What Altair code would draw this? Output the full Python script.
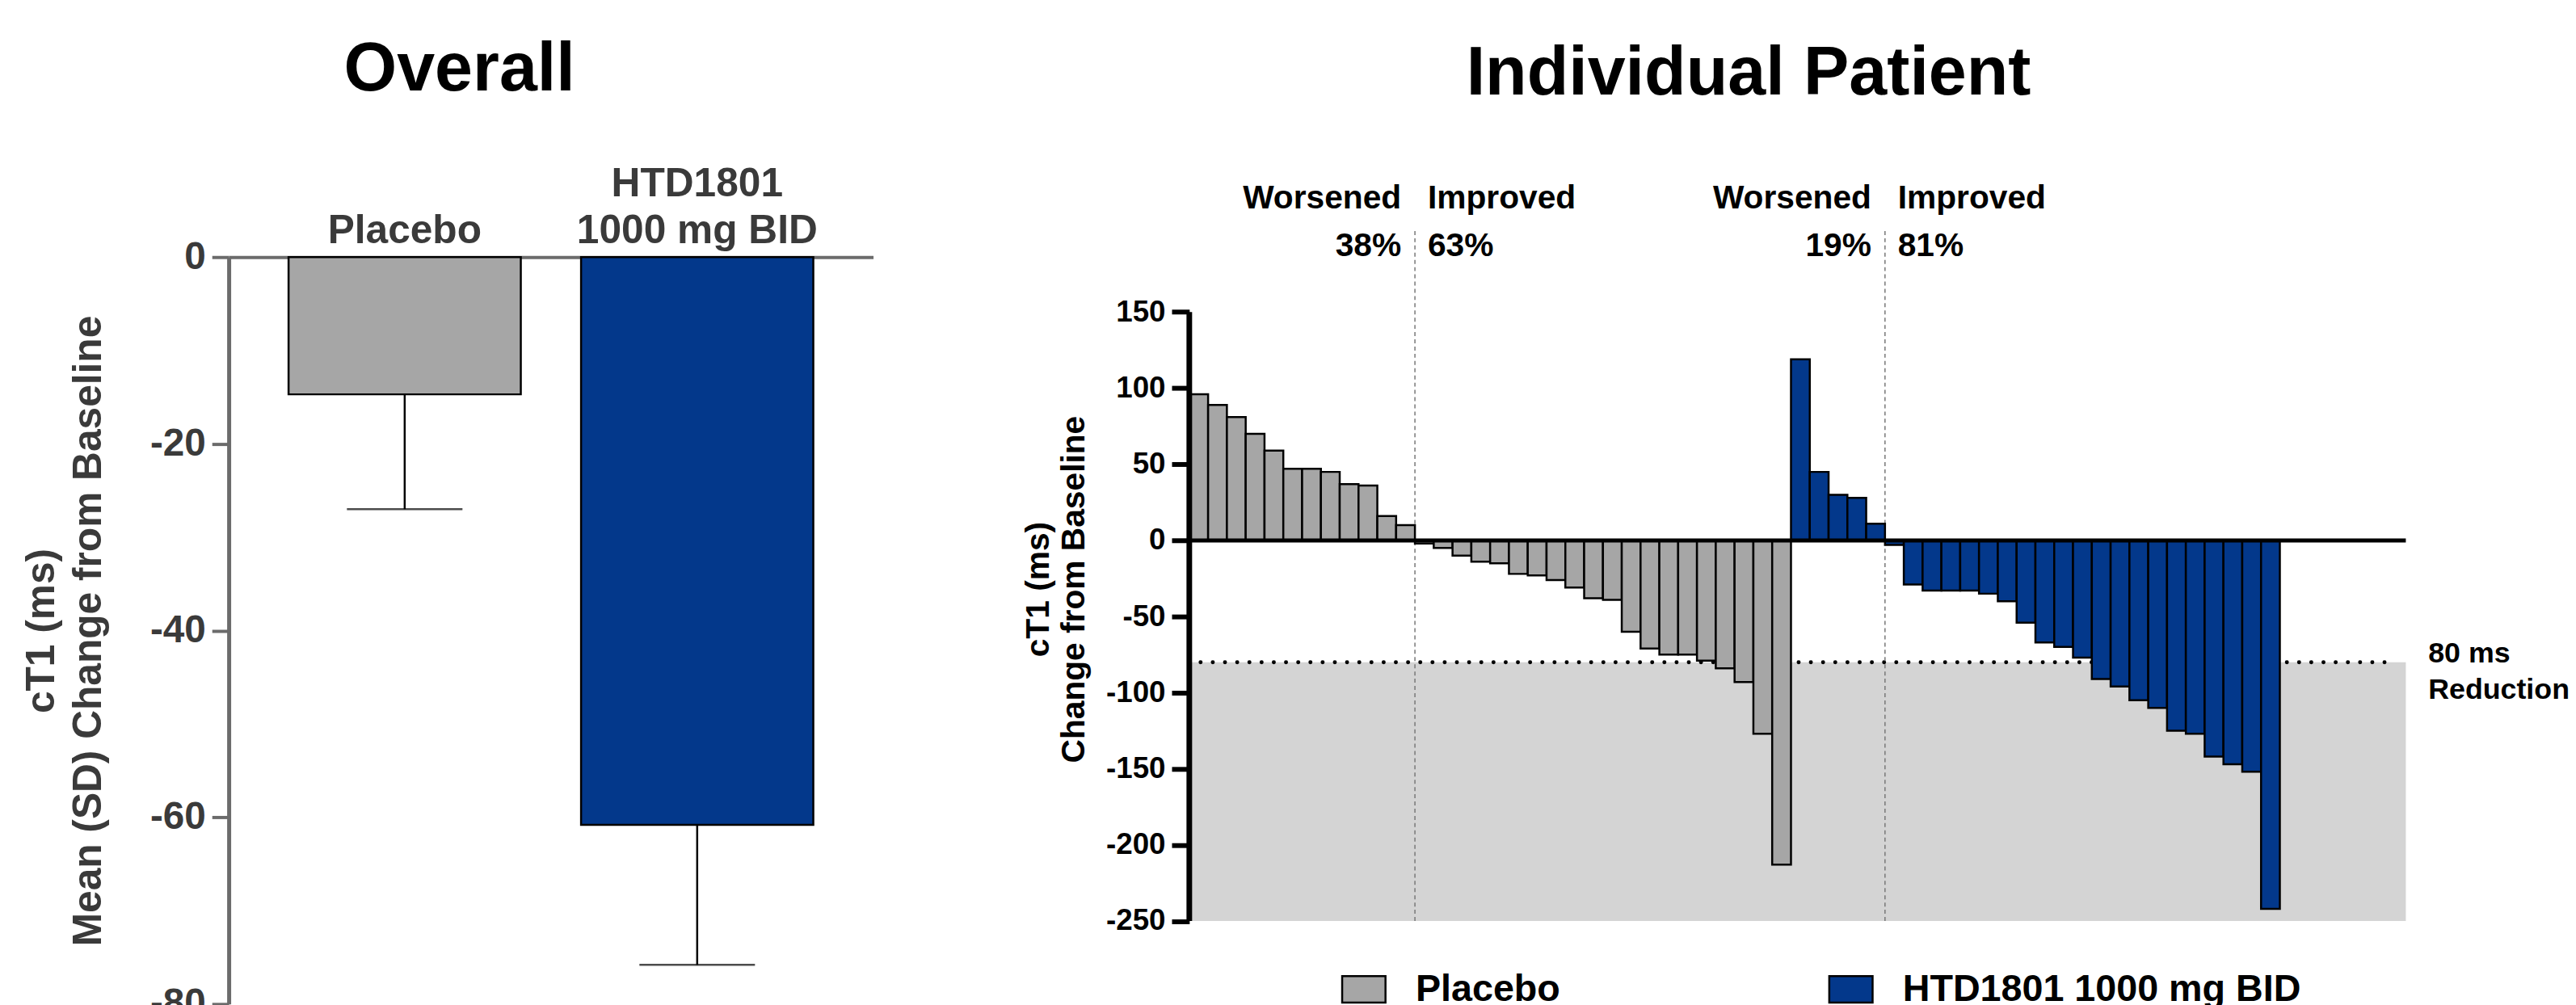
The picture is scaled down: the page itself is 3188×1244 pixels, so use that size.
import altair as alt
import pandas as pd

FONT = "Liberation Sans"

# ---------------- data ----------------
groups = ["Placebo", "HTD1801 1000 mg BID"]
group_colors = ["#a6a6a6", "#03388b"]

overall_labels = ["Placebo", "HTD1801\n1000 mg BID"]
overall_means = [-14.7, -60.8]
overall_sds = [12.3, 15.0]
overall_ticks = [0, -20, -40, -60, -80]

placebo_changes = [96, 89, 81, 70, 59, 47, 47, 45, 37, 36, 16, 10,
                   -2, -5, -10, -14, -15, -22, -23, -26, -31, -38, -39,
                   -60, -71, -75, -75, -79, -84, -93, -127, -213]
htd_changes = [119, 45, 30, 28, 11,
               -3, -29, -33, -33, -33, -35, -40, -54, -67, -70, -77, -91,
               -96, -105, -110, -125, -127, -142, -147, -152, -242]
patient_ticks = [150, 100, 50, 0, -50, -100, -150, -200, -250]
threshold = -80
worsened_pct = ["38%", "19%"]
improved_pct = ["63%", "81%"]

# ---------------- left panel: overall ----------------
ov = pd.DataFrame({
    "group": groups,
    "label": overall_labels,
    "fill": group_colors,
    "mean": overall_means,
    "low": [m - s for m, s in zip(overall_means, overall_sds)],
})

xl_scale = alt.Scale(paddingInner=0.206, paddingOuter=0.2045)
xl_axis = alt.Axis(orient="top", title=None, labelAngle=0, ticks=False,
                   # two-line labels, bottom-aligned: single-line labels get an empty first line
                   labelExpr="indexof(datum.label, '\\n') < 0 ? ['', datum.label] : split(datum.label, '\\n')",
                   labelLimit=2000, labelBaseline="bottom",
                   domainColor="#6b6b6b", domainWidth=4,
                   labelFont=FONT, labelFontSize=50, labelFontWeight="bold",
                   labelColor="#3a3a3a", labelPadding=66, labelLineHeight=58)
yl_scale = alt.Scale(domain=[-80, 0], nice=False)
yl_axis = alt.Axis(values=overall_ticks, title=["cT1 (ms)", "Mean (SD) Change from Baseline"],
                   labelExpr="'' + datum.value",
                   titleFont=FONT, titleFontSize=50, titleFontWeight="bold", titleColor="#3a3a3a",
                   titleLineHeight=59, titlePadding=51,
                   labelFont=FONT, labelFontSize=48, labelFontWeight="bold", labelColor="#3a3a3a",
                   labelPadding=8, domainColor="#6b6b6b", domainWidth=5,
                   tickColor="#6b6b6b", tickWidth=4, tickSize=21, grid=False)


def XL():
    return alt.X("label:N", sort=overall_labels, scale=xl_scale, axis=xl_axis)


def YL(f):
    return alt.Y(f, scale=yl_scale, axis=yl_axis)


bars_l = alt.Chart(ov).mark_bar(stroke="black", strokeWidth=2.5).encode(
    x=XL(), y=YL("mean:Q"), fill=alt.Fill("fill:N", scale=None))
err_l = alt.Chart(ov).mark_rule(color="black", strokeWidth=2.5).encode(
    x=XL(), y=YL("mean:Q"), y2="low:Q")
cap_l = alt.Chart(ov).mark_tick(color="black", thickness=2.5, size=144).encode(
    x=XL(), y=YL("low:Q"))

left = alt.layer(bars_l, err_l, cap_l).properties(
    width=803, height=931,
    title=alt.TitleParams("Overall", font=FONT, fontSize=85, fontWeight="bold", color="black",
                          anchor="middle", offset=74, dx=-114),
)

# ---------------- right panel: individual patients ----------------
rows = []
for i, v in enumerate(placebo_changes):
    rows.append({"group": groups[0], "start": i, "end": i + 1, "value": v, "base": 0})
n_p = len(placebo_changes)
for j, v in enumerate(htd_changes):
    rows.append({"group": groups[1], "start": n_p + j, "end": n_p + j + 1, "value": v, "base": 0})
pts = pd.DataFrame(rows)

x_extent = 64.7
y_top = 150 + 68.5 / 1.8975   # headroom above the top tick so the panel sits lower
xs = alt.Scale(domain=[0, x_extent], nice=False, zero=False)
ys = alt.Scale(domain=[-250, y_top], nice=False)
yr_axis = alt.Axis(values=patient_ticks, title=["cT1 (ms)", "Change from Baseline"], domain=False,
                   labelExpr="'' + datum.value",
                   titleFont=FONT, titleFontSize=41, titleFontWeight="bold", titleColor="black",
                   titleLineHeight=45, titlePadding=18,
                   labelFont=FONT, labelFontSize=37, labelFontWeight="bold", labelColor="black",
                   labelPadding=8, tickColor="black", tickWidth=6, tickSize=22, grid=False)

split_p = sum(1 for v in placebo_changes if v > 0)
split_h = n_p + sum(1 for v in htd_changes if v > 0)


def X(f):
    return alt.X(f, scale=xs, axis=None)


def Y(f):
    return alt.Y(f, scale=ys, axis=yr_axis)


band = alt.Chart(pd.DataFrame({"x": [0], "x2": [x_extent], "y": [-250], "y2": [threshold]})).mark_rect(
    color="#d4d4d4").encode(x=X("x:Q"), x2="x2:Q", y=Y("y:Q"), y2="y2:Q")

dotted = alt.Chart(pd.DataFrame({"x": [0.6], "x2": [x_extent - 0.5], "y": [threshold]})).mark_rule(
    color="black", strokeWidth=5, strokeDash=[0.01, 15.2], strokeCap="round").encode(
    x=X("x:Q"), x2="x2:Q", y=Y("y:Q"))

dashed = alt.Chart(pd.DataFrame({"x": [split_p, split_h], "y": [-250, -250], "y2": [205, 205]})).mark_rule(
    color="#777777", strokeWidth=1.5, strokeDash=[5, 4], clip=False).encode(
    x=X("x:Q"), y=Y("y:Q"), y2="y2:Q")

bars_r = alt.Chart(pts).mark_bar(stroke="black", strokeWidth=2.5).encode(
    x=X("start:Q"), x2="end:Q",
    y=Y("value:Q"), y2="base:Q",
    color=alt.Color("group:N", scale=alt.Scale(domain=groups, range=group_colors),
                    legend=alt.Legend(orient="none", legendX=189, legendY=884, direction="horizontal",
                                      title=None, padding=0, labelLimit=2000,
                                      symbolType="M-1,-0.611H1V0.611H-1Z", symbolSize=2916,
                                      symbolStrokeColor="black", symbolStrokeWidth=2.5,
                                      labelFont=FONT, labelFontSize=47, labelFontWeight="bold",
                                      labelColor="black", labelOffset=36, columnPadding=329)),
)

zero = alt.Chart(pd.DataFrame({"x": [0], "x2": [x_extent], "y": [0]})).mark_rule(
    color="black", strokeWidth=5).encode(x=X("x:Q"), x2="x2:Q", y=Y("y:Q"))

axis_line = alt.Chart(pd.DataFrame({"x": [0], "y": [min(patient_ticks)], "y2": [max(patient_ticks)]})).mark_rule(
    color="black", strokeWidth=7).encode(x=X("x:Q"), y=Y("y:Q"), y2="y2:Q")

ann = pd.DataFrame({
    "x": [split_p, split_p, split_p, split_p, split_h, split_h, split_h, split_h],
    "y": [218, 187, 218, 187, 218, 187, 218, 187],
    "side": ["L", "L", "R", "R", "L", "L", "R", "R"],
    "text": ["Worsened", worsened_pct[0], "Improved", improved_pct[0],
             "Worsened", worsened_pct[1], "Improved", improved_pct[1]],
})
ann_l = alt.Chart(ann[ann.side == "L"].reset_index(drop=True)).mark_text(
    align="right", baseline="alphabetic", dx=-17, font=FONT, fontSize=41, fontWeight="bold",
    color="black").encode(x=X("x:Q"), y=Y("y:Q"), text="text:N")
ann_r = alt.Chart(ann[ann.side == "R"].reset_index(drop=True)).mark_text(
    align="left", baseline="alphabetic", dx=16, font=FONT, fontSize=41, fontWeight="bold",
    color="black").encode(x=X("x:Q"), y=Y("y:Q"), text="text:N")

red_df = pd.DataFrame({"x": [x_extent, x_extent], "y": [threshold, threshold],
                       "line": [0, 1], "t": ["80 ms", "Reduction"]})
red1 = alt.Chart(red_df[red_df.line == 0].reset_index(drop=True)).mark_text(
    align="left", baseline="alphabetic", dx=28, font=FONT, fontSize=36, fontWeight="bold",
    color="black").encode(x=X("x:Q"), y=Y("y:Q"), text="t:N")
red2 = alt.Chart(red_df[red_df.line == 1].reset_index(drop=True)).mark_text(
    align="left", baseline="alphabetic", dx=28, dy=46, font=FONT, fontSize=36, fontWeight="bold",
    color="black").encode(x=X("x:Q"), y=Y("y:Q"), text="t:N")

right = alt.layer(band, dotted, dashed, bars_r, zero, axis_line, ann_l, ann_r, red1, red2).properties(
    width=1516, height=759 + 68.5,
    title=alt.TitleParams("Individual Patient", font=FONT, fontSize=85, fontWeight="bold",
                          color="black", anchor="middle", offset=91, dx=-61),
)

chart = alt.hconcat(left, right, spacing=184).resolve_scale(color="independent").properties(
    padding={"left": 18, "top": 32, "right": 0, "bottom": 0}
).configure_view(stroke=None)

chart.save("out.html", embed_options={"renderer": "svg", "actions": False})
